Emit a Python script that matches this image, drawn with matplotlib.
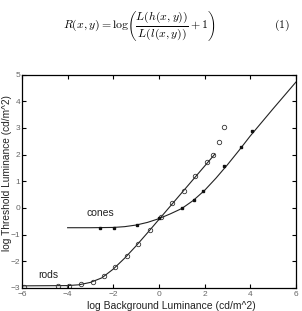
import matplotlib
matplotlib.use("Agg")
import matplotlib.pyplot as plt

# 읽어낸 데이터 (rods: 열린 원, cones: 채운 마커)
rod_x = [-5.92, -4.43, -3.95, -3.41, -2.91, -2.41, -1.91, -1.41, -0.91, -0.41,
         0.08, 0.59, 1.09, 1.60, 2.10, 2.35, 2.61, 2.86]
rod_y = [-2.97, -2.92, -2.92, -2.86, -2.76, -2.56, -2.23, -1.80, -1.34, -0.83,
         -0.32, 0.17, 0.65, 1.21, 1.71, 1.97, 2.48, 3.04]
cone_x = [-2.57, -1.96, -0.97, 0.02, 1.03, 1.53, 1.94, 2.86, 3.58, 4.08]
cone_y = [-0.74, -0.74, -0.63, -0.39, -0.01, 0.30, 0.65, 1.56, 2.27, 2.88]

# 피팅 곡선
rod_fit_x = [-6, -4, -3.5, -3, -2.5, -2, -1.5, -1, -0.5, 0, 0.5, 1, 1.5, 2, 2.45]
rod_fit_y = [-2.92, -2.91, -2.88, -2.79, -2.62, -2.29, -1.88, -1.42, -0.93,
             -0.43, 0.07, 0.57, 1.07, 1.57, 2.02]
cone_fit_x = [-4, -3, -2, -1.5, -1, -0.5, 0, 0.5, 1, 1.5, 2, 2.5, 3, 3.5, 4, 5, 6]
cone_fit_y = [-0.74, -0.74, -0.73, -0.70, -0.64, -0.54, -0.40, -0.22, -0.02,
              0.28, 0.66, 1.12, 1.62, 2.15, 2.70, 3.72, 4.72]

xticks = [-6, -4, -2, 0, 2, 4, 6]
yticks = [-3, -2, -1, 0, 1, 2, 3, 4, 5]

plt.rcParams["font.family"] = ["Liberation Sans", "DejaVu Sans"]
plt.rcParams["mathtext.fontset"] = "cm"

fig = plt.figure(figsize=(3.02, 3.11), dpi=100)

# 수식
fig.text(0.46, 0.918, r"$R(x,y) = \log\!\left(\dfrac{L(h(x,y))}{L(l(x,y))}+1\right)$",
         ha="center", va="center", fontsize=8.5)
fig.text(0.935, 0.918, r"$(1)$", ha="center", va="center", fontsize=8.5)

ax = fig.add_axes([0.0728, 0.074, 0.907, 0.686])
ax.plot(rod_fit_x, rod_fit_y, color="#222222", lw=0.8)
ax.plot(cone_fit_x, cone_fit_y, color="#222222", lw=0.8)
ax.plot(rod_x, rod_y, "o", mfc="none", mec="#333333", ms=3.2, mew=0.6)
ax.plot(cone_x, cone_y, "s", color="#111111", ms=2.1)

ax.text(-2.55, -0.2, "cones", ha="center", va="center", fontsize=7.5, color="#222222")
ax.text(-4.85, -2.51, "rods", ha="center", va="center", fontsize=7.5, color="#222222")

ax.set_xlim(-6, 6)
ax.set_ylim(-3, 5)
ax.set_xticks(xticks)
ax.set_yticks(yticks)
ax.tick_params(direction="in", length=3, width=0.8, top=True, right=True,
               labelsize=6, labelcolor="#666666", pad=2)
ax.tick_params(axis="y", pad=1.2)
for s in ax.spines.values():
    s.set_linewidth(0.9)
ax.set_xlabel("log Background Luminance (cd/m^2)", fontsize=7.5, color="#222222")
ax.set_ylabel("log Threshold Luminance (cd/m^2)", fontsize=7.3, color="#222222")
ax.xaxis.set_label_coords(0.545, -0.062)
ax.yaxis.set_label_coords(-0.036, 0.54)

plt.savefig("out.png", dpi=100)
